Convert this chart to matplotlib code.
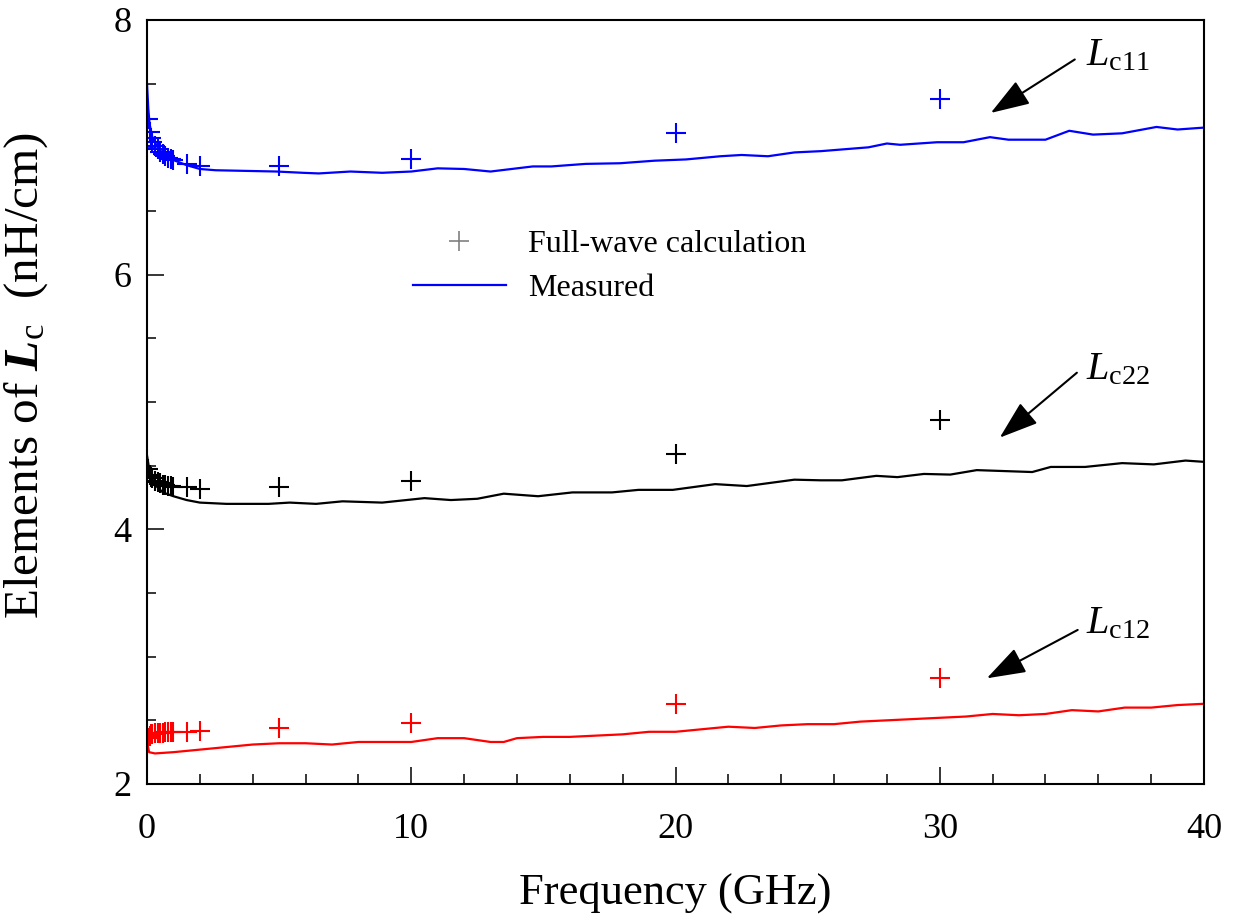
import matplotlib
matplotlib.use("Agg")
import matplotlib.pyplot as plt
from matplotlib.lines import Line2D
from matplotlib.ticker import MultipleLocator

plt.rcParams['font.family'] = ['Liberation Serif', 'DejaVu Serif']
plt.rcParams['mathtext.fontset'] = 'custom'
plt.rcParams['mathtext.rm'] = 'Liberation Serif'
plt.rcParams['mathtext.it'] = 'Liberation Serif:italic'
plt.rcParams['mathtext.bf'] = 'Liberation Serif:italic:bold'

# ---------------- data ----------------
# Full-wave calculation points (GHz)
fw_freq = [0.05, 0.1, 0.15, 0.2, 0.3, 0.4, 0.5, 0.6, 0.7, 0.8, 0.9, 1.0, 1.5, 2, 5, 10, 20, 30]
fw_Lc11 = [7.22, 7.12, 7.07, 7.04, 7.01, 6.99, 6.96, 6.95, 6.93, 6.92, 6.91, 6.90, 6.87, 6.85, 6.85, 6.91, 7.11, 7.38]
fw_Lc22 = [4.47, 4.43, 4.41, 4.40, 4.38, 4.37, 4.36, 4.35, 4.35, 4.34, 4.34, 4.33, 4.33, 4.32, 4.33, 4.38, 4.59, 4.86]
fw_Lc12 = [2.36, 2.38, 2.39, 2.39, 2.40, 2.40, 2.40, 2.40, 2.41, 2.41, 2.41, 2.41, 2.41, 2.42, 2.44, 2.48, 2.63, 2.83]

# Measured curves
m11_freq = [0, 0.05, 0.1, 0.2, 0.4, 0.7, 1.0, 1.5, 2.0, 2.6, 4.9, 5.9, 6.5, 7.7, 8.9, 10.0, 11.0, 12.0, 13.0,
            14.6, 15.3, 16.6, 17.9, 19.2, 20.4, 21.7, 22.5, 23.5, 24.5, 25.5, 27.3, 28.0, 28.5, 29.9, 30.9,
            31.9, 32.6, 34.0, 34.9, 35.8, 36.9, 38.2, 39.0, 40.0]
m11_val = [7.50, 7.30, 7.18, 7.08, 7.00, 6.93, 6.90, 6.86, 6.83, 6.82, 6.81, 6.80, 6.795, 6.81, 6.80, 6.81, 6.835, 6.83, 6.81,
           6.85, 6.85, 6.87, 6.875, 6.895, 6.905, 6.93, 6.94, 6.93, 6.96, 6.97, 7.00, 7.03, 7.02, 7.04, 7.04,
           7.08, 7.06, 7.06, 7.13, 7.10, 7.11, 7.16, 7.14, 7.155]

m22_freq = [0, 0.1, 0.3, 0.6, 1.0, 1.5, 2.0, 3.0, 4.6, 5.4, 6.4, 7.4, 8.9, 10.5, 11.5, 12.5, 13.5, 14.8, 16.1,
            17.6, 18.6, 19.9, 21.5, 22.7, 24.5, 25.5, 26.3, 27.6, 28.4, 29.4, 30.4, 31.4, 33.5, 34.2, 35.5,
            36.9, 38.1, 39.3, 40.0]
m22_val = [4.58, 4.45, 4.35, 4.29, 4.26, 4.23, 4.21, 4.20, 4.20, 4.21, 4.20, 4.22, 4.21, 4.245, 4.23, 4.24, 4.28, 4.26, 4.29,
           4.29, 4.31, 4.31, 4.355, 4.34, 4.39, 4.385, 4.385, 4.42, 4.41, 4.435, 4.43, 4.465, 4.45, 4.49, 4.49,
           4.52, 4.51, 4.54, 4.53]

m12_freq = [0, 0.03, 0.08, 0.3, 1.0, 2.0, 3.0, 4.0, 5.0, 6.0, 7.0, 8.0, 9.0, 10.0, 11.0, 12.0, 13.0, 13.5, 14.0,
            15.0, 16.0, 17.0, 18.0, 19.0, 20.0, 21.0, 22.0, 23.0, 24.0, 25.0, 26.0, 27.0, 28.0, 29.0, 30.0,
            31.0, 32.0, 33.0, 34.0, 35.0, 36.0, 37.0, 38.0, 39.0, 40.0]
m12_val = [2.40, 2.30, 2.25, 2.24, 2.25, 2.27, 2.29, 2.31, 2.32, 2.32, 2.31, 2.33, 2.33, 2.33, 2.36, 2.36, 2.33, 2.33, 2.36,
           2.37, 2.37, 2.38, 2.39, 2.41, 2.41, 2.43, 2.45, 2.44, 2.46, 2.47, 2.47, 2.49, 2.50, 2.51, 2.52,
           2.53, 2.55, 2.54, 2.55, 2.58, 2.57, 2.60, 2.60, 2.62, 2.63]

x_ticks = [0, 10, 20, 30, 40]
y_ticks = [2, 4, 6, 8]

# ---------------- figure ----------------
fig = plt.figure(figsize=(12.34, 9.24), dpi=100)
ax = fig.add_axes([147 / 1234, 1 - 784 / 924, (1204 - 147) / 1234, (784 - 20) / 924])

lw = 1.6
ax.plot(m11_freq, m11_val, color='#0000ff', lw=lw)
ax.plot(m22_freq, m22_val, color='black', lw=lw)
ax.plot(m12_freq, m12_val, color='#ff0000', lw=lw)

mk = dict(marker='+', linestyle='none', markersize=15, markeredgewidth=1.5)
ax.plot(fw_freq, fw_Lc11, color='#0000ff', **mk)
ax.plot(fw_freq, fw_Lc22, color='black', **mk)
ax.plot(fw_freq, fw_Lc12, color='#ff0000', **mk)

ax.set_xlim(0, 40)
ax.set_ylim(2, 8)
ax.set_xticks(x_ticks)
ax.set_yticks(y_ticks)
ax.xaxis.set_minor_locator(MultipleLocator(2))
ax.yaxis.set_minor_locator(MultipleLocator(0.5))
ax.tick_params(which='both', direction='in', top=False, right=False, labelsize=26, width=1.1)
ax.tick_params(axis='x', which='major', length=12, pad=21)
ax.tick_params(axis='x', which='minor', length=7)
ax.tick_params(axis='y', which='major', length=12, pad=11)
ax.tick_params(axis='y', which='minor', length=6.5)
for s in ax.spines.values():
    s.set_linewidth(1.5)

ax.set_xlabel('Frequency (GHz)', fontsize=32, labelpad=20)
ax.set_ylabel(r'Elements of $\mathbf{L}_{\mathrm{c}}$  (nH/cm)', fontsize=35.5)
ax.yaxis.set_label_coords((50 - 147) / 1057, (784 - 375) / 764)

# annotations
arrow_kw = dict(arrowstyle='-|>,head_length=1.05,head_width=0.36', mutation_scale=23,
                lw=1.5, color='black', shrinkA=0, shrinkB=0)
ann = [
    (r'$\mathit{L}_{\mathrm{c11}}$', (31.93, 7.27), (35.11, 7.69), (35.55, 7.72)),
    (r'$\mathit{L}_{\mathrm{c22}}$', (32.27, 4.72), (35.19, 5.23), (35.55, 5.25)),
    (r'$\mathit{L}_{\mathrm{c12}}$', (31.78, 2.83), (35.22, 3.21), (35.55, 3.26)),
]
for label, tip, tail, txt in ann:
    ax.annotate('', xy=tip, xytext=tail, arrowprops=arrow_kw)
    ax.text(txt[0], txt[1], label, fontsize=29, ha='left', va='center')

# legend
handles = [
    Line2D([], [], color='#808080', marker='+', linestyle='none', markersize=14, markeredgewidth=1.2),
    Line2D([], [], color='#0000ff', lw=1.6),
]
ax.legend(handles, ['Full-wave calculation', 'Measured'], loc='center left',
          bbox_to_anchor=((413 - 147) / 1057, (784 - 266.5) / 764), frameon=False,
          fontsize=23, handlelength=2.9, handletextpad=0.7, labelspacing=0.45,
          borderpad=0, borderaxespad=0)

fig.savefig('out.png', dpi=100)
